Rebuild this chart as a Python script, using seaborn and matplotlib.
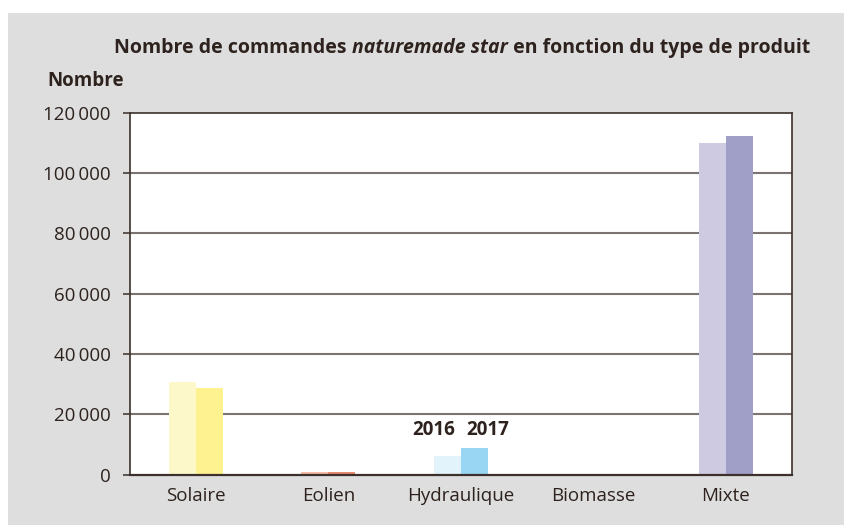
import pandas as pd
import seaborn as sns
import matplotlib.pyplot as plt
from matplotlib.patches import Rectangle
from matplotlib.ticker import FuncFormatter

# data
types = ['Solaire', 'Eolien', 'Hydraulique', 'Biomasse', 'Mixte']
years = ['2016', '2017']
n_2016 = [30700, 800, 6200, 0, 109900]
n_2017 = [28700, 900, 8800, 0, 112200]
colors_2016 = ['#fdf8c9', '#f5bba5', '#e3f3fb', '#d9ead0', '#cdcae2']
colors_2017 = ['#fef290', '#e88a70', '#98d6f3', '#a9d18e', '#a09fc8']
y_ticks = [0, 20000, 40000, 60000, 80000, 100000, 120000]

df = pd.DataFrame({
    'type': types * 2,
    'annee': [years[0]] * len(types) + [years[1]] * len(types),
    'nombre': n_2016 + n_2017,
})

sns.set_style('white')
plt.rcParams['font.family'] = ['Open Sans', 'DejaVu Sans']
dark = '#2d221d'
fs = 13.5

fig = plt.figure(figsize=(8.44, 5.25), dpi=100)
fig.patch.set_facecolor('white')
fig.patches.append(Rectangle((8 / 844, 0), 1 - 8 / 844, 1 - 13 / 525,
                             transform=fig.transFigure, facecolor='#dedede',
                             edgecolor='none', zorder=-10))

ax = fig.add_axes([129.5 / 844, 1 - 474.7 / 525, (792 - 129.5) / 844, (474.7 - 112.5) / 525])
ax.set_facecolor('white')

sns.barplot(data=df, x='type', y='nombre', hue='annee', order=types, hue_order=years,
            width=0.41, gap=0, ax=ax, legend=False, saturation=1)

# each product type has its own pair of colours
for i, cont in enumerate(ax.containers):
    cols = colors_2016 if i == 0 else colors_2017
    for j, bar in enumerate(cont):
        bar.set_facecolor(cols[j])
        bar.set_edgecolor('none')
        bar.set_zorder(3)

ax.set_ylim(0, 120000)
ax.set_xlim(-0.5, len(types) - 0.5)
ax.set_yticks(y_ticks)
ax.yaxis.set_major_formatter(FuncFormatter(lambda v, p: f'{int(v):,}'.replace(',', '\u2009')))
ax.set_xlabel('')
ax.set_ylabel('')

for y in y_ticks[1:-1]:
    ax.axhline(y, color='#7a7370', lw=1.5, zorder=1)

for s in ax.spines.values():
    s.set_color('#3b302b')
    s.set_linewidth(1.2)
ax.spines['bottom'].set_linewidth(1.6)
ax.spines['bottom'].set_zorder(4)

ax.tick_params(axis='y', length=4.7, width=1.1, color='#3b302b', pad=9,
               labelsize=fs, labelcolor=dark, left=True)
ax.tick_params(axis='x', length=0, pad=9, labelsize=fs, labelcolor=dark)

# year labels above the Hydraulique bars
h = types.index('Hydraulique')
ax.text(h - 0.205, 14800, years[0], ha='center', va='center', fontsize=fs,
        fontweight='bold', color=dark)
ax.text(h + 0.205, 14800, years[1], ha='center', va='center', fontsize=fs,
        fontweight='bold', color=dark)

# title in three parts (middle one in italics)
ty = 1 - 48 / 525
t1 = fig.text(114 / 844, ty, 'Nombre de commandes ', fontsize=14,
              fontweight='bold', color=dark, va='center', ha='left')
t2 = fig.text(0, 0, 'naturemade star', fontsize=14, fontweight='bold',
              fontstyle='italic', color=dark, va='center', ha='left')
t3 = fig.text(0, 0, ' en fonction du type de produit', fontsize=14,
              fontweight='bold', color=dark, va='center', ha='left')
fig.canvas.draw()
r = fig.canvas.get_renderer()
inv = fig.transFigure.inverted()
x1 = inv.transform(t1.get_window_extent(r))[1][0]
t2.set_position((x1, ty))
fig.canvas.draw()
x2 = inv.transform(t2.get_window_extent(r))[1][0]
t3.set_position((x2, ty))

fig.text(47 / 844, 1 - 81 / 525, 'Nombre', fontsize=fs, fontweight='bold',
         color=dark, va='center', ha='left')

fig.savefig('out.png', dpi=100, facecolor=fig.get_facecolor())
